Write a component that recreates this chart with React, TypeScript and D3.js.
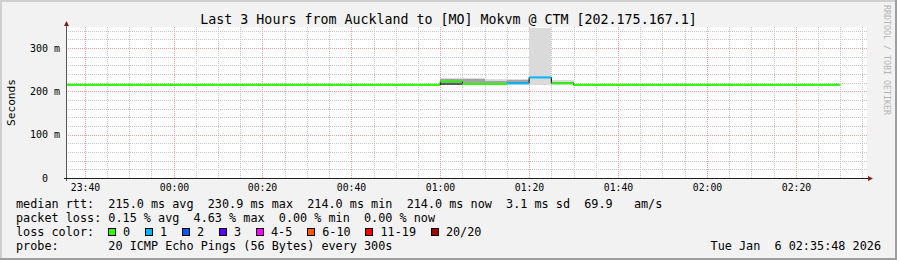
import React from "react";
import * as d3 from "d3";

const W = 897;
const H = 260;

const title = "Last 3 Hours from Auckland to [MO] Mokvm @ CTM [202.175.167.1]";
const yAxisTitle = "Seconds";
const watermark = "RRDTOOL / TOBI OETIKER";
const chartStart = "2026-01-05T23:35:48Z";
const chartEnd = "2026-01-06T02:35:48Z";

const yMajorTicks = [0, 100, 200, 300];
const yTickUnit = "m";

// median rtt, step series (start times, last segment ends at medianEnd)
const medianStarts = [
  "2026-01-05T23:35:48Z",
  "2026-01-06T01:00:00Z",
  "2026-01-06T01:05:00Z",
  "2026-01-06T01:10:00Z",
  "2026-01-06T01:15:00Z",
  "2026-01-06T01:20:00Z",
  "2026-01-06T01:25:00Z",
  "2026-01-06T01:30:00Z",
];
const medianEnd = "2026-01-06T02:30:00Z";
const medianMs = [215, 222.5, 217, 217, 218.5, 232, 218.5, 215];
const medianLoss = [0, 0, 0, 0, 1, 1, 0, 0];

// smoke per 5-minute step
const smokeStarts = [
  "2026-01-06T01:00:00Z",
  "2026-01-06T01:05:00Z",
  "2026-01-06T01:10:00Z",
  "2026-01-06T01:15:00Z",
  "2026-01-06T01:20:00Z",
  "2026-01-06T01:25:00Z",
];
const smokeMin = [214, 215, 215, 215, 214, 215];
const smokeMax = [231, 231, 229, 229, 420, 227];
const smokeMidLo = [219, 219, 216, 216, 214, 216];
const smokeMidHi = [229, 229, 224, 225.5, 214, 221];
const smokeDarkLo = [215, 219, 216, 216, 214, 216];
const smokeDarkHi = [219.5, 219, 216, 216, 214, 216];

const lossLabels = ["0", "1", "2", "3", "4-5", "6-10", "11-19", "20/20"];
const lossColors = ["#26ff00", "#00b8ff", "#0059ff", "#5e00ff", "#ff00ff", "#ff5500", "#ff0000", "#a10000"];

const legendMedian = "median rtt:  215.0 ms avg  230.9 ms max  214.0 ms min  214.0 ms now  3.1 ms sd  69.9   am/s";
const legendLoss = "packet loss: 0.15 % avg  4.63 % max  0.00 % min  0.00 % now";
const legendLossColor = "loss color:";
const legendProbe = "probe:       20 ICMP Echo Pings (56 Bytes) every 300s";
const legendDate = "Tue Jan  6 02:35:48 2026";

const MONO = "'DejaVu Sans Mono', monospace";
const PRE = { whiteSpace: "pre" as const };

export default function App() {
  const x0 = 66, x1 = 866, y0 = 178, yTop = 27;
  const x = d3.scaleUtc().domain([new Date(chartStart), new Date(chartEnd)]).range([x0, x1]);
  const y = d3.scaleLinear().domain([0, 350]).range([y0, 26.3]);

  const majorX = x.ticks(d3.utcMinute.every(20)!);
  const minorX = x.ticks(d3.utcMinute.every(5)!).filter((d) => x(d) > x0 + 1 && x(d) < x1);
  const minorY = d3.range(20, 341, 20).filter((v) => v % 100 !== 0);
  const fmt = d3.utcFormat("%H:%M");

  const px = (v: number) => Math.round(v) + 0.5;

  const medPts = medianStarts.map((s, i) => ({
    t0: new Date(s),
    t1: new Date(i + 1 < medianStarts.length ? medianStarts[i + 1] : medianEnd),
    v: medianMs[i],
    c: lossColors[medianLoss[i]],
  }));
  const stepLine = d3
    .line<[Date, number]>()
    .x((d) => x(d[0]))
    .y((d) => y(d[1]))
    .curve(d3.curveStepAfter);
  const stepData: [Date, number][] = medPts.map((p) => [p.t0, p.v] as [Date, number]);
  stepData.push([new Date(medianEnd), medianMs[medianMs.length - 1]]);

  const smoke = smokeStarts.map((s, i) => {
    const t0 = new Date(s);
    const t1 = d3.utcMinute.offset(t0, 5);
    return { t0, t1, i };
  });

  // loss legend layout
  const charW = 7.1;
  let bx = 108;
  const lossItems = lossLabels.map((lab, i) => {
    const item = { bx, lx: bx + 15, lab, c: lossColors[i] };
    bx = bx + 15 + lab.length * charW + 14.9;
    return item;
  });

  return (
    <svg width={W} height={H} style={{ display: "block", position: "absolute", left: 0, top: 0 }}>
      <defs>
        <clipPath id="plotclip">
          <rect x={x0} y={yTop + 1} width={x1 - x0 + 1} height={y0 - yTop - 1} />
        </clipPath>
      </defs>
      {/* background and frame */}
      <rect x={0} y={0} width={W} height={H} fill="#f2f2f2" />
      <rect x={0} y={0} width={W} height={2} fill="#cfcfcf" />
      <rect x={0} y={0} width={2} height={H} fill="#cfcfcf" />
      <rect x={W - 2} y={0} width={2} height={H} fill="#9e9e9e" />
      <rect x={0} y={H - 2} width={W} height={2} fill="#9e9e9e" />

      {/* canvas */}
      <rect x={x0} y={yTop} width={x1 - x0 + 1} height={y0 - yTop} fill="#ffffff" />

      {/* grid */}
      <g shapeRendering="crispEdges">
        {minorY.map((v) => (
          <line key={"hy" + v} x1={x0} x2={x1 + 2} y1={px(y(v))} y2={px(y(v))} stroke="#c6c6c6" strokeDasharray="1,1" />
        ))}
        {minorX.map((d) => (
          <line key={"vx" + +d} x1={px(x(d))} x2={px(x(d))} y1={yTop} y2={y0} stroke="#c6c6c6" strokeDasharray="1,1" />
        ))}
        {yMajorTicks.filter((v) => v > 0).map((v) => (
          <line key={"my" + v} x1={x0} x2={x1 + 2} y1={px(y(v))} y2={px(y(v))} stroke="#eea0a0" strokeDasharray="1,1" />
        ))}
        {majorX.map((d) => (
          <line key={"mx" + +d} x1={px(x(d))} x2={px(x(d))} y1={yTop} y2={y0} stroke="#eea0a0" strokeDasharray="1,1" />
        ))}
      </g>

      {/* smoke */}
      <g clipPath="url(#plotclip)" shapeRendering="crispEdges">
        {smoke.map(({ t0, t1, i }) => (
          <g key={"s" + i}>
            <rect x={x(t0)} width={x(t1) - x(t0)} y={y(smokeMax[i])} height={y(smokeMin[i]) - y(smokeMax[i])} fill="#dadada" />
            <rect x={x(t0)} width={x(t1) - x(t0)} y={y(smokeMidHi[i])} height={Math.max(0, y(smokeMidLo[i]) - y(smokeMidHi[i]))} fill="#a4a4a4" />
            <rect x={x(t0)} width={x(t1) - x(t0)} y={y(smokeDarkHi[i])} height={Math.max(0, y(smokeDarkLo[i]) - y(smokeDarkHi[i]))} fill="#5a5a5a" />
          </g>
        ))}
      </g>

      {/* median: thin black step line + colored thick segments */}
      <path d={stepLine(stepData) || ""} fill="none" stroke="#000" strokeWidth={1} />
      {medPts.map((p, i) => (
        <line key={"m" + i} x1={x(p.t0)} x2={x(p.t1)} y1={y(p.v)} y2={y(p.v)} stroke={p.c} strokeWidth={2} />
      ))}

      {/* axes */}
      <line x1={x0 + 0.5} x2={x0 + 0.5} y1={yTop - 3} y2={y0 + 3} stroke="#555" strokeWidth={1} />
      <line x1={x0 - 2} x2={x1 + 4} y1={y0 + 0.5} y2={y0 + 0.5} stroke="#1f1f1f" strokeWidth={1} />
      <path d={`M${x0 - 2},${yTop - 1} L${x0 + 0.5},${yTop - 6} L${x0 + 3},${yTop - 1} Z`} fill="#801f1f" />
      <path d={`M${x1 + 2},${y0 - 2} L${x1 + 7},${y0 + 0.5} L${x1 + 2},${y0 + 3} Z`} fill="#801f1f" />

      {/* y tick labels */}
      {yMajorTicks.map((v) => (
        <g key={"yl" + v} fontFamily={MONO} fontSize={10} fill="#000">
          <text x={48} y={y(v) + 3.8} textAnchor="end">{v}</text>
          {v > 0 && <text x={54} y={y(v) + 3.8}>{yTickUnit}</text>}
        </g>
      ))}
      {/* x tick labels */}
      {majorX.map((d) => (
        <text key={"xl" + +d} x={px(x(d))} y={191} textAnchor="middle" fontFamily={MONO} fontSize={9.8} fill="#000">
          {fmt(d)}
        </text>
      ))}

      {/* titles */}
      <text x={W / 2} y={24} textAnchor="middle" fontFamily={MONO} fontSize={13.3} fill="#000">{title}</text>
      <text transform="translate(10.5,102.5) rotate(-90)" textAnchor="middle" dy="0.36em" fontFamily={MONO} fontSize={11.2} fill="#000">{yAxisTitle}</text>
      <text transform="translate(887,60) rotate(90)" textAnchor="middle" dy="0.36em" fontFamily={MONO} fontSize={8.3} fill="#b4b4b4">{watermark}</text>

      {/* legend */}
      <g fontFamily={MONO} fontSize={11.8} fill="#000">
        <text x={16} y={208} xmlSpace="preserve" style={PRE}>{legendMedian}</text>
        <text x={16} y={222} xmlSpace="preserve" style={PRE}>{legendLoss}</text>
        <text x={16} y={236} xmlSpace="preserve" style={PRE}>{legendLossColor}</text>
        {lossItems.map((it) => (
          <g key={"li" + it.lab}>
            <rect x={Math.round(it.bx) + 0.5} y={228.5} width={7} height={7} fill={it.c} stroke="#000" strokeWidth={1} />
            <text x={it.lx} y={236}>{it.lab}</text>
          </g>
        ))}
        <text x={16} y={250} xmlSpace="preserve" style={PRE}>{legendProbe}</text>
        <text x={881} y={250} textAnchor="end" xmlSpace="preserve" style={PRE}>{legendDate}</text>
      </g>
    </svg>
  );
}
